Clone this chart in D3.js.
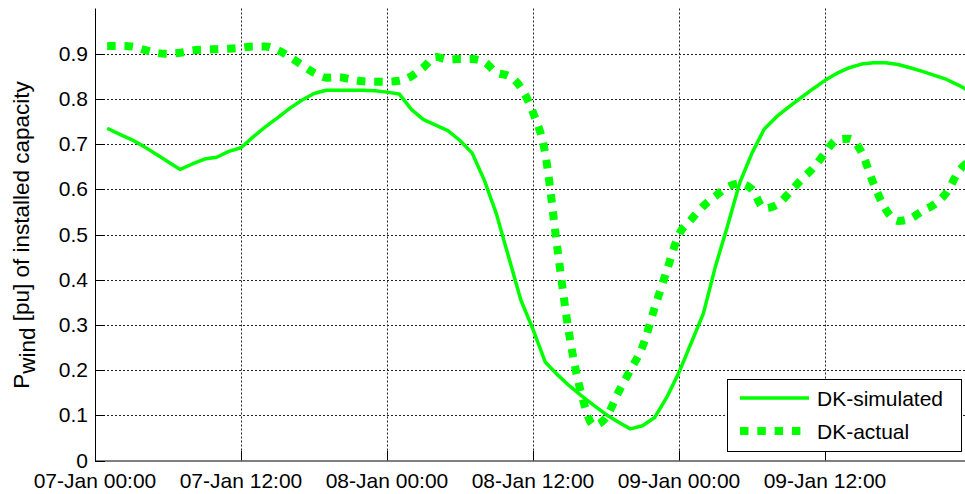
<!DOCTYPE html>
<html>
<head>
<meta charset="utf-8">
<script src="https://cdn.jsdelivr.net/npm/d3@7"></script>
<style>
  body { margin: 0; background: #fff; }
  text { font-family: "Liberation Sans", Arial, sans-serif; fill: #000; }
</style>
</head>
<body>
<svg width="965" height="494"></svg>
<script>
// hours since 07-Jan 00:00
var hours = d3.range(1, 73);
var tickHours = [0, 12, 24, 36, 48, 60];
var tickLabels = ["07-Jan 00:00", "07-Jan 12:00", "08-Jan 00:00", "08-Jan 12:00", "09-Jan 00:00", "09-Jan 12:00"];
var yTicks = [0, 0.1, 0.2, 0.3, 0.4, 0.5, 0.6, 0.7, 0.8, 0.9];
var seriesNames = ["DK-simulated", "DK-actual"];

var simulated = [0.735, 0.722, 0.710, 0.695, 0.678, 0.661, 0.644, 0.656, 0.667, 0.671,
  0.684, 0.692, 0.716, 0.738, 0.758, 0.779, 0.797, 0.812, 0.819, 0.819,
  0.819, 0.819, 0.818, 0.815, 0.811, 0.777, 0.754, 0.742, 0.730, 0.708,
  0.680, 0.620, 0.545, 0.450, 0.355, 0.290, 0.218, 0.190, 0.165, 0.143,
  0.122, 0.102, 0.085, 0.070, 0.077, 0.095, 0.140, 0.195, 0.260, 0.325,
  0.430, 0.520, 0.615, 0.680, 0.733, 0.760, 0.782, 0.802, 0.822, 0.841,
  0.857, 0.869, 0.877, 0.880, 0.880, 0.876, 0.869, 0.861, 0.852, 0.843,
  0.830, 0.815];

var actual = [0.917, 0.917, 0.916, 0.909, 0.902, 0.900, 0.902, 0.907, 0.909, 0.910,
  0.911, 0.913, 0.916, 0.916, 0.908, 0.893, 0.875, 0.858, 0.847, 0.848,
  0.843, 0.839, 0.838, 0.838, 0.840, 0.850, 0.870, 0.893, 0.887, 0.888,
  0.888, 0.882, 0.858, 0.851, 0.825, 0.770, 0.680, 0.470, 0.275, 0.145,
  0.078, 0.095, 0.150, 0.200, 0.252, 0.338, 0.420, 0.500, 0.533, 0.563,
  0.585, 0.605, 0.613, 0.600, 0.558, 0.565, 0.590, 0.620, 0.646, 0.680,
  0.710, 0.712, 0.682, 0.612, 0.555, 0.530, 0.535, 0.552, 0.567, 0.593,
  0.640, 0.665];

var svg = d3.select("svg"),
    pLeft = 95, pRight = 971, pTop = 8.5, pBottom = 460.5;

var x = d3.scaleLinear().domain([0, 72]).range([pLeft, pRight]);
var y = d3.scaleLinear().domain([0, 1]).range([pBottom, pTop]);

svg.append("rect").attr("width", 965).attr("height", 494).attr("fill", "#fff");

svg.append("clipPath").attr("id", "clip")
  .append("rect").attr("x", pLeft).attr("y", pTop).attr("width", pRight - pLeft).attr("height", pBottom - pTop);

// grid
var grid = svg.append("g").attr("stroke", "#222").attr("stroke-width", 1).attr("stroke-dasharray", "2,2");
grid.selectAll(".gx").data(tickHours.slice(1)).enter().append("line")
  .attr("x1", function(d) { return Math.round(x(d)) + 0.5; })
  .attr("x2", function(d) { return Math.round(x(d)) + 0.5; })
  .attr("y1", pTop).attr("y2", pBottom);
grid.selectAll(".gy").data(yTicks.slice(1)).enter().append("line")
  .attr("x1", pLeft).attr("x2", pRight)
  .attr("y1", function(d) { return Math.round(y(d)) + 0.5; })
  .attr("y2", function(d) { return Math.round(y(d)) + 0.5; });

// axes lines + ticks
var ax = svg.append("g").attr("stroke", "#000").attr("stroke-width", 1);
ax.append("line").attr("x1", pLeft + 0.5).attr("x2", pLeft + 0.5).attr("y1", pTop).attr("y2", pBottom + 0.5);
ax.append("line").attr("x1", pLeft).attr("x2", pRight).attr("y1", pBottom + 0.5).attr("y2", pBottom + 0.5);
ax.selectAll(".tx").data(tickHours).enter().append("line")
  .attr("x1", function(d) { return Math.round(x(d)) + 0.5; })
  .attr("x2", function(d) { return Math.round(x(d)) + 0.5; })
  .attr("y1", pBottom).attr("y2", pBottom - 10);
ax.selectAll(".ty").data(yTicks).enter().append("line")
  .attr("x1", pLeft).attr("x2", pLeft + 10)
  .attr("y1", function(d) { return Math.round(y(d)) + 0.5; })
  .attr("y2", function(d) { return Math.round(y(d)) + 0.5; });

// tick labels
svg.selectAll(".xl").data(tickHours).enter().append("text")
  .attr("x", function(d) { return x(d); })
  .attr("y", 487.5)
  .attr("text-anchor", "middle")
  .style("font-size", "21px")
  .text(function(d, i) { return tickLabels[i]; });

svg.selectAll(".yl").data(yTicks).enter().append("text")
  .attr("x", 88)
  .attr("y", function(d) { return y(d); })
  .attr("dy", "0.34em")
  .attr("text-anchor", "end")
  .style("font-size", "21px")
  .text(function(d) { return d === 0 ? "0" : d3.format(".1f")(d); });

// y label
var yl = svg.append("text")
  .attr("transform", "translate(29,235) rotate(-90)")
  .attr("text-anchor", "middle")
  .style("font-size", "22.5px");
yl.append("tspan").text("P");
yl.append("tspan").attr("dy", 6).text("wind");
yl.append("tspan").attr("dy", -6).text(" [pu] of installed capacity");

// series
var plot = svg.append("g").attr("clip-path", "url(#clip)");

var lineSim = d3.line()
  .x(function(d, i) { return x(hours[i]); })
  .y(function(d) { return y(d); });

var lineAct = d3.line()
  .curve(d3.curveMonotoneX)
  .x(function(d, i) { return x(hours[i]); })
  .y(function(d) { return y(d); });

plot.append("path")
  .attr("d", lineSim(simulated))
  .attr("fill", "none")
  .attr("stroke", "#00ff00")
  .attr("stroke-width", 3.5)
  .attr("stroke-linejoin", "round");

plot.append("path")
  .attr("d", lineAct(actual))
  .attr("fill", "none")
  .attr("stroke", "#00ff00")
  .attr("stroke-width", 8)
  .attr("stroke-dasharray", "8.5,8.8");

// legend
var lg = svg.append("g").attr("transform", "translate(727,379)");
lg.append("rect")
  .attr("x", 0.5).attr("y", 0.5).attr("width", 234).attr("height", 72)
  .attr("fill", "#fff").attr("stroke", "#000").attr("stroke-width", 1);
lg.append("line")
  .attr("x1", 13).attr("x2", 82).attr("y1", 19).attr("y2", 19)
  .attr("stroke", "#00ff00").attr("stroke-width", 3.5);
lg.append("line")
  .attr("x1", 13).attr("x2", 82).attr("y1", 52).attr("y2", 52)
  .attr("stroke", "#00ff00").attr("stroke-width", 8)
  .attr("stroke-dasharray", "8.5,8.8");
lg.selectAll(".lt").data(seriesNames).enter().append("text")
  .attr("x", 90)
  .attr("y", function(d, i) { return 26.5 + i * 33; })
  .style("font-size", "21px")
  .text(function(d) { return d; });
</script>
</body>
</html>
